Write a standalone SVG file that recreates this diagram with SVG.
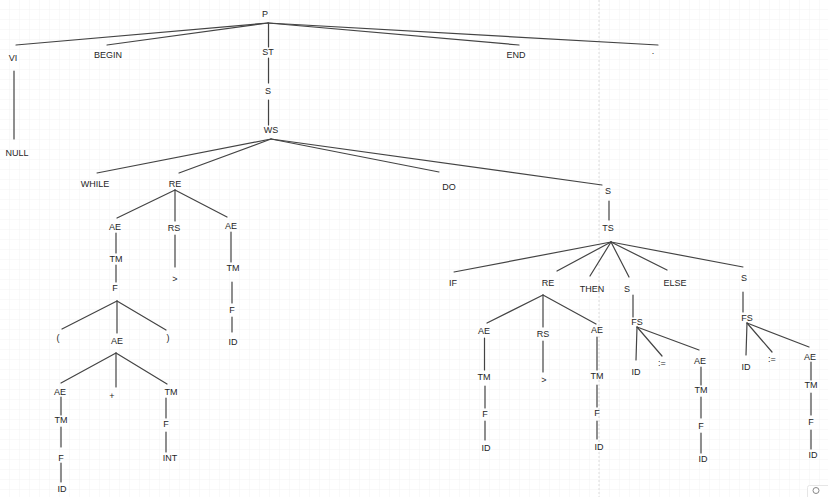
<svg xmlns="http://www.w3.org/2000/svg" width="828" height="497" viewBox="0 0 828 497">
  <defs>
    <pattern id="grid" width="10" height="10" patternUnits="userSpaceOnUse">
      <path d="M10 0 V10 M0 10 H10" fill="none" stroke="#f3f3f3" stroke-width="1"/>
    </pattern>
    <style>
      .lbl { font-family: "Liberation Sans", Arial, sans-serif; font-size: 9px; fill: #262626; text-anchor: middle; }
      .edge { stroke: #444444; stroke-width: 1.2; fill: none; stroke-linecap: round; }
    </style>
  </defs>

  <!-- canvas background with grid and page break -->
  <rect width="828" height="497" fill="#ffffff"/>
  <rect width="828" height="497" fill="url(#grid)"/>
  <line x1="599" y1="0" x2="599" y2="497" stroke="#dcdcdc" stroke-width="1" stroke-dasharray="2 2"/>

  <!-- parse tree edges -->
  <g id="connectors" class="edge">
    <!-- P -->
    <line x1="268" y1="23" x2="16" y2="45"/>
    <line x1="268" y1="23" x2="107" y2="45"/>
    <line x1="268" y1="23" x2="519" y2="45"/>
    <line x1="268" y1="23" x2="658" y2="45"/>
    <line x1="268.5" y1="23" x2="268.5" y2="47"/>
    <line x1="268.5" y1="58" x2="268.5" y2="83"/>
    <line x1="268.5" y1="100" x2="268.5" y2="125"/>
    <line x1="14" y1="71" x2="14" y2="139"/>
    <!-- WS -->
    <line x1="271" y1="139" x2="97" y2="173"/>
    <line x1="271" y1="139" x2="179" y2="173"/>
    <line x1="271" y1="139" x2="439" y2="172"/>
    <line x1="271" y1="139" x2="602" y2="185"/>
    <!-- S -> TS -->
    <line x1="609" y1="201" x2="609" y2="220"/>
    <!-- TS -->
    <line x1="611" y1="242" x2="454" y2="272"/>
    <line x1="611" y1="242" x2="557" y2="271"/>
    <line x1="611" y1="242" x2="590" y2="276"/>
    <line x1="611" y1="242" x2="629" y2="277"/>
    <line x1="611" y1="242" x2="667" y2="270"/>
    <line x1="611" y1="242" x2="743" y2="267"/>
    <!-- RE (while condition) -->
    <line x1="175" y1="190" x2="117" y2="218"/>
    <line x1="175" y1="190" x2="175" y2="221"/>
    <line x1="175" y1="190" x2="227" y2="217"/>
    <line x1="116" y1="233" x2="116" y2="253"/>
    <line x1="116" y1="265" x2="116" y2="282"/>
    <line x1="117" y1="301" x2="62" y2="329"/>
    <line x1="117" y1="301" x2="117" y2="333"/>
    <line x1="117" y1="301" x2="166" y2="330"/>
    <line x1="116" y1="353" x2="61" y2="383"/>
    <line x1="116" y1="353" x2="116" y2="387"/>
    <line x1="116" y1="353" x2="167" y2="384"/>
    <line x1="61" y1="397" x2="61" y2="415"/>
    <line x1="61" y1="427" x2="61" y2="447"/>
    <line x1="61" y1="463" x2="61" y2="482"/>
    <line x1="166" y1="398" x2="166" y2="418"/>
    <line x1="166" y1="432" x2="166" y2="452"/>
    <line x1="175" y1="235" x2="175" y2="267"/>
    <line x1="231" y1="232" x2="231" y2="262"/>
    <line x1="232" y1="282" x2="232" y2="303"/>
    <line x1="232" y1="317" x2="232" y2="332"/>
    <!-- RE (if condition) -->
    <line x1="543" y1="295" x2="487" y2="323"/>
    <line x1="543" y1="295" x2="543" y2="327"/>
    <line x1="543" y1="295" x2="596" y2="324"/>
    <line x1="484.5" y1="338" x2="484.5" y2="370"/>
    <line x1="485" y1="386" x2="485" y2="408"/>
    <line x1="485" y1="421" x2="485" y2="440"/>
    <line x1="543" y1="341" x2="543" y2="372"/>
    <line x1="597" y1="337" x2="597" y2="370"/>
    <line x1="597" y1="385" x2="597" y2="407"/>
    <line x1="597" y1="421" x2="597" y2="439"/>
    <!-- THEN branch -->
    <line x1="633" y1="295" x2="633" y2="317"/>
    <line x1="637" y1="327" x2="636" y2="360"/>
    <line x1="637" y1="327" x2="662" y2="356"/>
    <line x1="637" y1="327" x2="699" y2="350"/>
    <line x1="701" y1="367" x2="701" y2="385"/>
    <line x1="701" y1="397" x2="701" y2="418"/>
    <line x1="701" y1="433" x2="701" y2="453"/>
    <!-- ELSE branch -->
    <line x1="743" y1="292" x2="743" y2="312"/>
    <line x1="747" y1="323" x2="746" y2="355"/>
    <line x1="747" y1="323" x2="772" y2="352"/>
    <line x1="747" y1="323" x2="809" y2="347"/>
    <line x1="811" y1="362" x2="811" y2="380"/>
    <line x1="811" y1="393" x2="811" y2="415"/>
    <line x1="811" y1="430" x2="811" y2="449"/>
  </g>

  <!-- top level -->
  <g id="n-P"><text class="lbl" x="265" y="17">P</text></g>
  <g id="n-VI"><text class="lbl" x="13" y="61">VI</text></g>
  <g id="n-BEGIN"><text class="lbl" x="108" y="58">BEGIN</text></g>
  <g id="n-ST"><text class="lbl" x="268" y="55">ST</text></g>
  <g id="n-END"><text class="lbl" x="516" y="58">END</text></g>
  <g id="n-dot"><text class="lbl" x="653" y="54">.</text></g>
  <g id="n-NULL"><text class="lbl" x="17" y="156">NULL</text></g>
  <g id="n-S1"><text class="lbl" x="268" y="94">S</text></g>
  <g id="n-WS"><text class="lbl" x="271" y="133">WS</text></g>

  <!-- while statement -->
  <g id="n-WHILE"><text class="lbl" x="95" y="187">WHILE</text></g>
  <g id="n-RE1"><text class="lbl" x="175" y="187">RE</text></g>
  <g id="n-DO"><text class="lbl" x="449" y="190">DO</text></g>
  <g id="n-S2"><text class="lbl" x="608" y="194">S</text></g>

  <g id="n-AE1"><text class="lbl" x="115" y="230">AE</text></g>
  <g id="n-RS1"><text class="lbl" x="174" y="231">RS</text></g>
  <g id="n-AE2"><text class="lbl" x="231" y="229">AE</text></g>
  <g id="n-TM1"><text class="lbl" x="116" y="262">TM</text></g>
  <g id="n-F1"><text class="lbl" x="115" y="291">F</text></g>
  <g id="n-lpar"><text class="lbl" x="58" y="341">(</text></g>
  <g id="n-AE3"><text class="lbl" x="117" y="344">AE</text></g>
  <g id="n-rpar"><text class="lbl" x="168" y="341">)</text></g>
  <g id="n-AE4"><text class="lbl" x="60" y="395">AE</text></g>
  <g id="n-plus"><text class="lbl" x="112" y="399">+</text></g>
  <g id="n-TM2"><text class="lbl" x="171" y="395">TM</text></g>
  <g id="n-TM3"><text class="lbl" x="61" y="423">TM</text></g>
  <g id="n-F2"><text class="lbl" x="61" y="461">F</text></g>
  <g id="n-ID1"><text class="lbl" x="62" y="492">ID</text></g>
  <g id="n-F3"><text class="lbl" x="166" y="427">F</text></g>
  <g id="n-INT"><text class="lbl" x="170" y="461">INT</text></g>
  <g id="n-gt1"><text class="lbl" x="175" y="282">&gt;</text></g>
  <g id="n-TM4"><text class="lbl" x="233" y="271">TM</text></g>
  <g id="n-F4"><text class="lbl" x="232" y="313">F</text></g>
  <g id="n-ID2"><text class="lbl" x="233" y="345">ID</text></g>

  <!-- if statement -->
  <g id="n-TS"><text class="lbl" x="608" y="231">TS</text></g>
  <g id="n-IF"><text class="lbl" x="453" y="286">IF</text></g>
  <g id="n-RE2"><text class="lbl" x="548" y="286">RE</text></g>
  <g id="n-THEN"><text class="lbl" x="592" y="292">THEN</text></g>
  <g id="n-S3"><text class="lbl" x="627" y="292">S</text></g>
  <g id="n-ELSE"><text class="lbl" x="675" y="286">ELSE</text></g>
  <g id="n-S4"><text class="lbl" x="744" y="281">S</text></g>

  <g id="n-AE5"><text class="lbl" x="484" y="334">AE</text></g>
  <g id="n-RS2"><text class="lbl" x="543" y="337">RS</text></g>
  <g id="n-AE6"><text class="lbl" x="597" y="333">AE</text></g>
  <g id="n-TM5"><text class="lbl" x="484" y="380">TM</text></g>
  <g id="n-F5"><text class="lbl" x="485" y="417">F</text></g>
  <g id="n-ID3"><text class="lbl" x="486" y="451">ID</text></g>
  <g id="n-gt2"><text class="lbl" x="544" y="383">&gt;</text></g>
  <g id="n-TM6"><text class="lbl" x="597" y="379">TM</text></g>
  <g id="n-F6"><text class="lbl" x="597" y="416">F</text></g>
  <g id="n-ID4"><text class="lbl" x="599" y="450">ID</text></g>

  <g id="n-FS1"><text class="lbl" x="637" y="325">FS</text></g>
  <g id="n-ID5"><text class="lbl" x="636" y="375">ID</text></g>
  <g id="n-assign1"><text class="lbl" x="662" y="366">:=</text></g>
  <g id="n-AE7"><text class="lbl" x="700" y="364">AE</text></g>
  <g id="n-TM7"><text class="lbl" x="701" y="393">TM</text></g>
  <g id="n-F7"><text class="lbl" x="701" y="429">F</text></g>
  <g id="n-ID6"><text class="lbl" x="703" y="462">ID</text></g>

  <g id="n-FS2"><text class="lbl" x="747" y="321">FS</text></g>
  <g id="n-ID7"><text class="lbl" x="746" y="370">ID</text></g>
  <g id="n-assign2"><text class="lbl" x="772" y="362">:=</text></g>
  <g id="n-AE8"><text class="lbl" x="810" y="360">AE</text></g>
  <g id="n-TM8"><text class="lbl" x="811" y="388">TM</text></g>
  <g id="n-F8"><text class="lbl" x="811" y="425">F</text></g>
  <g id="n-ID8"><text class="lbl" x="813" y="458">ID</text></g>

  <!-- corner widget -->
  <rect x="807.5" y="485.5" width="30" height="20" rx="2" fill="#ffffff" stroke="#e6e6e6"/>
  <circle cx="816" cy="490.5" r="3" fill="none" stroke="#888" stroke-width="1"/>
</svg>
